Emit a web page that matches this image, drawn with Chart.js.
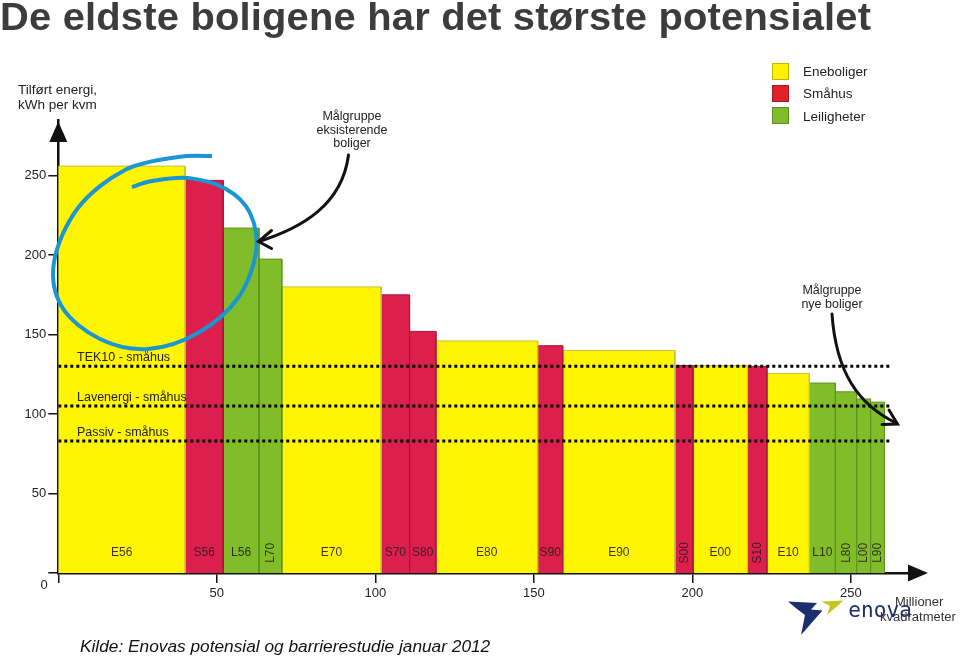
<!DOCTYPE html>
<html><head><meta charset="utf-8">
<script src="https://cdn.jsdelivr.net/npm/chart.js@4/dist/chart.umd.min.js"></script>
<style>
body{margin:0;background:#fff;}
#wrap{position:relative;width:960px;height:658px;overflow:hidden;font-family:"Liberation Sans",Arial,sans-serif;}
canvas{position:absolute;left:0;top:0;}
.t{position:absolute;white-space:nowrap;line-height:1;color:#222;}
.c{text-align:center;}
.sw{position:absolute;width:15px;height:15px;border:1px solid rgba(0,0,0,0.25);}
</style></head><body>
<div id="wrap">
<canvas id="c" width="960" height="658"></canvas>
<div class="t" id="title" style="left:0px;top:-2.5px;font-size:38px;font-weight:bold;color:#3c3c3c;transform-origin:0 0;">De eldste boligene har det største potensialet</div>
<div class="t" style="left:18px;top:82px;font-size:13.5px;line-height:15px;">Tilført energi,<br>kWh per kvm</div>
<div class="t c" style="left:302px;top:110px;width:100px;font-size:12.5px;line-height:13.5px;">Målgruppe<br>eksisterende<br>boliger</div>
<div class="t c" style="left:782px;top:283px;width:100px;font-size:12.5px;line-height:14px;">Målgruppe<br>nye boliger</div>
<div id="legend"></div>
<div class="t" style="left:40.5px;top:578px;font-size:13px;">0</div>
<div class="t" id="cap" style="left:80px;top:638px;font-size:17.3px;font-style:italic;color:#111;">Kilde: Enovas potensial og barrierestudie januar 2012</div>
</div>
<script>
// ---- data ----
const categories = ['E56','S56','L56','L70','E70','S70','S80','E80','S90','E90','S00','E00','S10','E10','L10','L80','L00','L90'];
const groups     = ['E','S','L','L','E','S','S','E','S','E','S','E','S','E','L','L','L','L'];
const areas      = [40, 12, 11.3, 7.2, 31.3, 9, 8.3, 32.1, 7.9, 35.4, 5.7, 17.2, 6.1, 13.4, 8.2, 6.7, 4.4, 4.4];
const energy     = [256, 247, 217, 197.5, 180, 175, 152, 146, 143, 140, 130.5, 130.5, 130, 125.5, 119.5, 114, 109.5, 107.5];
const rotatedLabels = ['L70','S00','S10','L80','L00','L90'];
const refNames   = ['TEK10 - småhus','Lavenergi - småhus','Passiv - småhus'];
const refValues  = [130, 105, 83];
const refEnd     = 262.6;
const yTicks     = [0, 50, 100, 150, 200, 250];
const xTicks     = [0, 50, 100, 150, 200, 250];
const legendNames = ['Eneboliger','Småhus','Leiligheter'];
const legendKeys  = ['E','S','L'];

const fillCol   = {E:'#FFF500', S:'#DC1F4D', L:'#80BD29'};
const borderCol = {E:'#C8C040', S:'#A8173C', L:'#5E9420'};
const legendCol = {E:'#FFF200', S:'#E0232A', L:'#80BD2C'};

// fit title width to the reference span (slight stretch + spacing)
(function(){
  const t = document.getElementById('title');
  const target = 871, w = t.getBoundingClientRect().width;
  const sx = Math.min(1.05, target / w);
  t.style.transform = 'scaleX(' + sx + ')';
  const n = t.textContent.length - 1;
  const rest = target / sx - w;
  t.style.letterSpacing = (rest / n) + 'px';
})();

// legend (HTML)
const lg = document.getElementById('legend');
legendNames.forEach((n,i)=>{
  const sq = document.createElement('div');
  sq.className='sw'; sq.style.left='772px'; sq.style.top=(63+i*22.2)+'px';
  sq.style.background = legendCol[legendKeys[i]];
  lg.appendChild(sq);
  const tx = document.createElement('div');
  tx.className='t'; tx.style.left='803px'; tx.style.top=(64.5+i*22.8)+'px'; tx.style.fontSize='13.5px';
  tx.textContent = n; lg.appendChild(tx);
});

// datasets
const datasets = [];
let start = 0;
const starts = [];
categories.forEach((c,i)=>{
  const x0 = start, x1 = start + areas[i];
  starts.push(x0);
  datasets.push({
    label: c,
    data: [{x:x0,y:0},{x:x0,y:energy[i]},{x:x1,y:energy[i]},{x:x1,y:0}],
    backgroundColor: fillCol[groups[i]],
    borderColor: borderCol[groups[i]],
    borderWidth: 1,
    fill: 'origin',
    pointRadius: 0,
    tension: 0,
    order: 2
  });
  start = x1;
});
refValues.forEach((v,i)=>{
  datasets.push({
    label: refNames[i],
    data: [{x:0,y:v},{x:refEnd,y:v}],
    borderColor: '#000',
    borderWidth: 3,
    borderDash: [3,3],
    borderCapStyle: 'butt',
    fill: false,
    pointRadius: 0,
    order: 1
  });
});

Chart.defaults.font.family = "'Liberation Sans', Arial, sans-serif";

function curve(ctx, pts){
  ctx.moveTo(pts[0][0], pts[0][1]);
  for (let i=0;i<pts.length-1;i++){
    const p0 = pts[Math.max(0,i-1)], p1 = pts[i], p2 = pts[i+1], p3 = pts[Math.min(pts.length-1,i+2)];
    ctx.bezierCurveTo(p1[0]+(p2[0]-p0[0])/6, p1[1]+(p2[1]-p0[1])/6,
                      p2[0]-(p3[0]-p1[0])/6, p2[1]-(p3[1]-p1[1])/6, p2[0], p2[1]);
  }
}

const decor = {
  id:'decor',
  afterDatasetsDraw(chart){
    const ctx = chart.ctx, xs = chart.scales.x, ys = chart.scales.y;
    ctx.save();
    // bar labels
    ctx.fillStyle = 'rgba(40,30,30,0.9)';
    ctx.font = "12px 'Liberation Sans', Arial, sans-serif";
    ctx.textAlign='center'; ctx.textBaseline='middle';
    categories.forEach((c,i)=>{
      const cx = xs.getPixelForValue(starts[i] + areas[i]/2);
      const cy = ys.getPixelForValue(12.7);
      if (rotatedLabels.includes(c)){
        ctx.save(); ctx.translate(cx+0.5, cy); ctx.rotate(-Math.PI/2);
        ctx.fillText(c, 0, 0); ctx.restore();
      } else ctx.fillText(c, cx, cy);
    });
    // reference line labels
    ctx.fillStyle = '#222';
    ctx.font = "12.5px 'Liberation Sans', Arial, sans-serif";
    ctx.textAlign='left'; ctx.textBaseline='alphabetic';
    refNames.forEach((n,i)=>{
      ctx.fillText(n, 77, ys.getPixelForValue(refValues[i]) - 5);
    });
    ctx.restore();
  },
  afterDraw(chart){
    const ctx = chart.ctx, xs = chart.scales.x, ys = chart.scales.y;
    const x0 = xs.getPixelForValue(0), y0 = ys.getPixelForValue(0);
    ctx.save();
    // axis arrows
    ctx.fillStyle = '#111';
    ctx.beginPath(); ctx.moveTo(x0, 121.5); ctx.lineTo(x0-9, 142); ctx.lineTo(x0+9, 142); ctx.closePath(); ctx.fill();
    ctx.beginPath(); ctx.moveTo(928, y0); ctx.lineTo(908, y0-8.5); ctx.lineTo(908, y0+8.5); ctx.closePath(); ctx.fill();
    // blue swirl
    ctx.strokeStyle = '#1996D3'; ctx.lineWidth = 4; ctx.lineCap='butt';
    ctx.beginPath();
    curve(ctx, [[212,156],[178,157],[125,170],[78,208],[54,262],[62,307],[100,339],[148,349],[198,333],[238,298],[256,252],[250,213],[226,189],[188,178],[152,181],[132,187]]);
    ctx.stroke();
    // arrows (black)
    ctx.strokeStyle = '#111'; ctx.lineWidth = 3; ctx.lineCap='round';
    ctx.beginPath(); ctx.moveTo(348.5,155); ctx.bezierCurveTo(342,205,302,228,259,241.5); ctx.stroke();
    ctx.beginPath(); ctx.moveTo(271.5,230.5); ctx.lineTo(258.5,241.5); ctx.lineTo(271.5,248.5); ctx.stroke();
    ctx.beginPath(); ctx.moveTo(832,314); ctx.bezierCurveTo(836,372,858,405,897,423.5); ctx.stroke();
    ctx.beginPath(); ctx.moveTo(889,410); ctx.lineTo(897.5,424); ctx.lineTo(882,424.5); ctx.stroke();
    // enova logo
    ctx.fillStyle = '#1B2E6E';
    ctx.beginPath();
    ctx.moveTo(788,601.5); ctx.lineTo(817,603); ctx.lineTo(811,609.5); ctx.lineTo(822.5,610.5);
    ctx.lineTo(801,635); ctx.lineTo(805,615); ctx.lineTo(797,609); ctx.closePath(); ctx.fill();
    ctx.fillStyle = '#C9C51E';
    ctx.beginPath(); ctx.moveTo(821.5,601.5); ctx.lineTo(843.5,600.5); ctx.lineTo(827,615); ctx.lineTo(830,606); ctx.closePath(); ctx.fill();
    ctx.fillStyle = '#1B2E6E';
    ctx.font = "21px 'DejaVu Sans Mono', monospace";
    ctx.textAlign='left'; ctx.textBaseline='alphabetic';
    const letters = 'enova'.split('');
    const lw = letters.map(l => ctx.measureText(l).width);
    const total = lw.reduce((a,b)=>a+b,0);
    const gap = (63.5 - total) / 4;
    let lx = 848.3;
    letters.forEach((l,i)=>{ ctx.fillText(l, lx, 617); lx += lw[i] + gap; });
    ctx.fillStyle = '#333';
    ctx.font = "13px 'Liberation Sans', Arial, sans-serif";
    ctx.fillText('Millioner', 895, 606);
    ctx.fillText('kvadratmeter', 880, 620.5);
    ctx.restore();
  }
};

new Chart(document.getElementById('c'), {
  type: 'line',
  data: { datasets },
  options: {
    responsive: false,
    animation: false,
    events: [],
    layout: { padding: { left: 0, right: 45.7, top: 120, bottom: 45 } },
    plugins: { legend: { display: false }, tooltip: { enabled: false } },
    scales: {
      x: {
        type: 'linear', min: 0, max: 270, z: 1,
        afterBuildTicks: s => { s.ticks = xTicks.map(v => ({value: v})); },
        afterFit: s => { s.height = 40; },
        grid: { drawOnChartArea: false, drawTicks: true, tickLength: 10, color: '#111', lineWidth: 1.5 },
        border: { display: true, color: '#111', width: 2.5 },
        ticks: { padding: 3, color: '#222', font: { size: 13 }, maxRotation: 0, callback: v => v === 0 ? '' : String(v) }
      },
      y: {
        type: 'linear', min: 0, max: 285, z: 1,
        afterBuildTicks: s => { s.ticks = yTicks.map(v => ({value: v})); },
        afterFit: s => { s.width = 58.3; },
        grid: { drawOnChartArea: false, drawTicks: true, tickLength: 10, color: '#111', lineWidth: 1.5 },
        border: { display: true, color: '#111', width: 2.5 },
        ticks: { padding: 2, color: '#222', font: { size: 13 }, callback: v => v === 0 ? '' : String(v) }
      }
    }
  },
  plugins: [decor]
});
</script>
</body></html>
